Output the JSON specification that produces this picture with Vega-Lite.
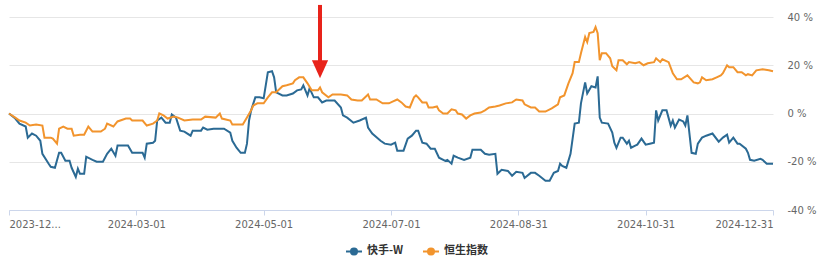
{
  "$schema": "https://vega.github.io/schema/vega-lite/v6.json",
  "width": 764,
  "height": 193,
  "autosize": {"type": "none"},
  "padding": {"left": 9, "top": 17, "right": 57, "bottom": 54},
  "config": {
    "view": {"stroke": null},
    "font": "DejaVu Sans"
  },
  "datasets": {
    "arrowShaft": [{"d": "2024-05-28", "y1": 45, "y2": 21}],
    "arrowHead": [{"d": "2024-05-28", "y": 18.3}]
  },
  "layer": [
    {
      "data": {"values": [
        {"d":"2023-12-31","s":"快手-W","v":0},
        {"d":"2024-01-03","s":"快手-W","v":-2.1},
        {"d":"2024-01-05","s":"快手-W","v":-4.2},
        {"d":"2024-01-08","s":"快手-W","v":-5.4},
        {"d":"2024-01-09","s":"快手-W","v":-10.0},
        {"d":"2024-01-11","s":"快手-W","v":-8.3},
        {"d":"2024-01-13","s":"快手-W","v":-9.2},
        {"d":"2024-01-15","s":"快手-W","v":-11.3},
        {"d":"2024-01-16","s":"快手-W","v":-16.7},
        {"d":"2024-01-19","s":"快手-W","v":-20.8},
        {"d":"2024-01-20","s":"快手-W","v":-22.1},
        {"d":"2024-01-22","s":"快手-W","v":-22.5},
        {"d":"2024-01-24","s":"快手-W","v":-16.3},
        {"d":"2024-01-25","s":"快手-W","v":-16.3},
        {"d":"2024-01-27","s":"快手-W","v":-19.6},
        {"d":"2024-01-29","s":"快手-W","v":-19.6},
        {"d":"2024-01-30","s":"快手-W","v":-22.5},
        {"d":"2024-02-01","s":"快手-W","v":-26.3},
        {"d":"2024-02-02","s":"快手-W","v":-22.9},
        {"d":"2024-02-03","s":"快手-W","v":-25.0},
        {"d":"2024-02-05","s":"快手-W","v":-25.0},
        {"d":"2024-02-06","s":"快手-W","v":-17.9},
        {"d":"2024-02-09","s":"快手-W","v":-19.2},
        {"d":"2024-02-11","s":"快手-W","v":-20.0},
        {"d":"2024-02-14","s":"快手-W","v":-20.0},
        {"d":"2024-02-16","s":"快手-W","v":-16.7},
        {"d":"2024-02-18","s":"快手-W","v":-14.6},
        {"d":"2024-02-20","s":"快手-W","v":-17.5},
        {"d":"2024-02-21","s":"快手-W","v":-13.3},
        {"d":"2024-02-26","s":"快手-W","v":-13.3},
        {"d":"2024-02-28","s":"快手-W","v":-16.3},
        {"d":"2024-03-04","s":"快手-W","v":-16.3},
        {"d":"2024-03-05","s":"快手-W","v":-18.3},
        {"d":"2024-03-06","s":"快手-W","v":-12.5},
        {"d":"2024-03-09","s":"快手-W","v":-12.1},
        {"d":"2024-03-10","s":"快手-W","v":-11.3},
        {"d":"2024-03-11","s":"快手-W","v":-2.9},
        {"d":"2024-03-13","s":"快手-W","v":-1.7},
        {"d":"2024-03-15","s":"快手-W","v":-3.8},
        {"d":"2024-03-17","s":"快手-W","v":-3.8},
        {"d":"2024-03-18","s":"快手-W","v":-0.4},
        {"d":"2024-03-20","s":"快手-W","v":-1.7},
        {"d":"2024-03-22","s":"快手-W","v":-7.1},
        {"d":"2024-03-24","s":"快手-W","v":-7.5},
        {"d":"2024-03-27","s":"快手-W","v":-9.2},
        {"d":"2024-03-28","s":"快手-W","v":-7.1},
        {"d":"2024-04-01","s":"快手-W","v":-7.1},
        {"d":"2024-04-02","s":"快手-W","v":-5.8},
        {"d":"2024-04-04","s":"快手-W","v":-6.7},
        {"d":"2024-04-07","s":"快手-W","v":-6.3},
        {"d":"2024-04-10","s":"快手-W","v":-6.3},
        {"d":"2024-04-12","s":"快手-W","v":-6.3},
        {"d":"2024-04-15","s":"快手-W","v":-7.9},
        {"d":"2024-04-16","s":"快手-W","v":-11.3},
        {"d":"2024-04-18","s":"快手-W","v":-14.2},
        {"d":"2024-04-20","s":"快手-W","v":-16.3},
        {"d":"2024-04-22","s":"快手-W","v":-16.3},
        {"d":"2024-04-23","s":"快手-W","v":-12.5},
        {"d":"2024-04-24","s":"快手-W","v":-2.9},
        {"d":"2024-04-25","s":"快手-W","v":1.3},
        {"d":"2024-04-27","s":"快手-W","v":6.7},
        {"d":"2024-04-29","s":"快手-W","v":6.7},
        {"d":"2024-05-01","s":"快手-W","v":6.3},
        {"d":"2024-05-03","s":"快手-W","v":17.1},
        {"d":"2024-05-05","s":"快手-W","v":17.5},
        {"d":"2024-05-06","s":"快手-W","v":15.0},
        {"d":"2024-05-07","s":"快手-W","v":8.8},
        {"d":"2024-05-10","s":"快手-W","v":7.5},
        {"d":"2024-05-12","s":"快手-W","v":7.5},
        {"d":"2024-05-15","s":"快手-W","v":8.3},
        {"d":"2024-05-17","s":"快手-W","v":9.6},
        {"d":"2024-05-19","s":"快手-W","v":10.0},
        {"d":"2024-05-20","s":"快手-W","v":11.7},
        {"d":"2024-05-22","s":"快手-W","v":7.5},
        {"d":"2024-05-23","s":"快手-W","v":10.4},
        {"d":"2024-05-25","s":"快手-W","v":6.7},
        {"d":"2024-05-27","s":"快手-W","v":6.7},
        {"d":"2024-05-29","s":"快手-W","v":4.6},
        {"d":"2024-05-31","s":"快手-W","v":5.4},
        {"d":"2024-06-04","s":"快手-W","v":5.4},
        {"d":"2024-06-07","s":"快手-W","v":2.5},
        {"d":"2024-06-08","s":"快手-W","v":-0.8},
        {"d":"2024-06-10","s":"快手-W","v":-1.7},
        {"d":"2024-06-13","s":"快手-W","v":-3.8},
        {"d":"2024-06-16","s":"快手-W","v":-2.9},
        {"d":"2024-06-19","s":"快手-W","v":-1.7},
        {"d":"2024-06-20","s":"快手-W","v":-5.8},
        {"d":"2024-06-22","s":"快手-W","v":-8.3},
        {"d":"2024-06-26","s":"快手-W","v":-11.3},
        {"d":"2024-06-28","s":"快手-W","v":-12.5},
        {"d":"2024-07-01","s":"快手-W","v":-12.9},
        {"d":"2024-07-03","s":"快手-W","v":-12.1},
        {"d":"2024-07-04","s":"快手-W","v":-15.4},
        {"d":"2024-07-07","s":"快手-W","v":-15.4},
        {"d":"2024-07-09","s":"快手-W","v":-10.4},
        {"d":"2024-07-11","s":"快手-W","v":-9.2},
        {"d":"2024-07-13","s":"快手-W","v":-7.1},
        {"d":"2024-07-14","s":"快手-W","v":-7.1},
        {"d":"2024-07-16","s":"快手-W","v":-12.1},
        {"d":"2024-07-18","s":"快手-W","v":-12.5},
        {"d":"2024-07-20","s":"快手-W","v":-14.6},
        {"d":"2024-07-22","s":"快手-W","v":-14.6},
        {"d":"2024-07-24","s":"快手-W","v":-18.3},
        {"d":"2024-07-27","s":"快手-W","v":-19.6},
        {"d":"2024-07-28","s":"快手-W","v":-19.2},
        {"d":"2024-07-30","s":"快手-W","v":-20.8},
        {"d":"2024-07-31","s":"快手-W","v":-17.5},
        {"d":"2024-08-02","s":"快手-W","v":-18.3},
        {"d":"2024-08-05","s":"快手-W","v":-19.2},
        {"d":"2024-08-08","s":"快手-W","v":-18.3},
        {"d":"2024-08-09","s":"快手-W","v":-15.0},
        {"d":"2024-08-13","s":"快手-W","v":-15.0},
        {"d":"2024-08-15","s":"快手-W","v":-16.7},
        {"d":"2024-08-17","s":"快手-W","v":-17.1},
        {"d":"2024-08-20","s":"快手-W","v":-16.7},
        {"d":"2024-08-21","s":"快手-W","v":-25.0},
        {"d":"2024-08-23","s":"快手-W","v":-23.3},
        {"d":"2024-08-26","s":"快手-W","v":-23.8},
        {"d":"2024-08-28","s":"快手-W","v":-25.8},
        {"d":"2024-08-30","s":"快手-W","v":-24.2},
        {"d":"2024-09-02","s":"快手-W","v":-24.6},
        {"d":"2024-09-03","s":"快手-W","v":-26.7},
        {"d":"2024-09-06","s":"快手-W","v":-24.6},
        {"d":"2024-09-08","s":"快手-W","v":-24.6},
        {"d":"2024-09-10","s":"快手-W","v":-25.8},
        {"d":"2024-09-13","s":"快手-W","v":-27.9},
        {"d":"2024-09-15","s":"快手-W","v":-27.9},
        {"d":"2024-09-17","s":"快手-W","v":-24.6},
        {"d":"2024-09-19","s":"快手-W","v":-23.8},
        {"d":"2024-09-20","s":"快手-W","v":-20.8},
        {"d":"2024-09-21","s":"快手-W","v":-21.7},
        {"d":"2024-09-23","s":"快手-W","v":-22.5},
        {"d":"2024-09-25","s":"快手-W","v":-16.7},
        {"d":"2024-09-27","s":"快手-W","v":-4.2},
        {"d":"2024-09-29","s":"快手-W","v":-3.8},
        {"d":"2024-09-30","s":"快手-W","v":4.2},
        {"d":"2024-10-02","s":"快手-W","v":12.9},
        {"d":"2024-10-03","s":"快手-W","v":8.3},
        {"d":"2024-10-05","s":"快手-W","v":11.3},
        {"d":"2024-10-07","s":"快手-W","v":10.8},
        {"d":"2024-10-08","s":"快手-W","v":15.4},
        {"d":"2024-10-09","s":"快手-W","v":-1.7},
        {"d":"2024-10-10","s":"快手-W","v":-3.8},
        {"d":"2024-10-13","s":"快手-W","v":-4.2},
        {"d":"2024-10-15","s":"快手-W","v":-7.9},
        {"d":"2024-10-16","s":"快手-W","v":-12.1},
        {"d":"2024-10-17","s":"快手-W","v":-14.2},
        {"d":"2024-10-19","s":"快手-W","v":-10.0},
        {"d":"2024-10-20","s":"快手-W","v":-10.0},
        {"d":"2024-10-22","s":"快手-W","v":-12.5},
        {"d":"2024-10-23","s":"快手-W","v":-11.3},
        {"d":"2024-10-24","s":"快手-W","v":-14.2},
        {"d":"2024-10-26","s":"快手-W","v":-13.3},
        {"d":"2024-10-27","s":"快手-W","v":-12.9},
        {"d":"2024-10-29","s":"快手-W","v":-10.4},
        {"d":"2024-10-31","s":"快手-W","v":-12.9},
        {"d":"2024-11-02","s":"快手-W","v":-12.5},
        {"d":"2024-11-04","s":"快手-W","v":-12.1},
        {"d":"2024-11-05","s":"快手-W","v":1.3},
        {"d":"2024-11-06","s":"快手-W","v":-2.9},
        {"d":"2024-11-08","s":"快手-W","v":1.3},
        {"d":"2024-11-10","s":"快手-W","v":1.3},
        {"d":"2024-11-12","s":"快手-W","v":-5.0},
        {"d":"2024-11-13","s":"快手-W","v":-2.9},
        {"d":"2024-11-14","s":"快手-W","v":-5.8},
        {"d":"2024-11-16","s":"快手-W","v":-2.5},
        {"d":"2024-11-18","s":"快手-W","v":-3.3},
        {"d":"2024-11-19","s":"快手-W","v":-5.0},
        {"d":"2024-11-20","s":"快手-W","v":-0.8},
        {"d":"2024-11-22","s":"快手-W","v":-16.3},
        {"d":"2024-11-24","s":"快手-W","v":-16.7},
        {"d":"2024-11-25","s":"快手-W","v":-12.5},
        {"d":"2024-11-27","s":"快手-W","v":-10.0},
        {"d":"2024-11-29","s":"快手-W","v":-9.2},
        {"d":"2024-12-02","s":"快手-W","v":-8.3},
        {"d":"2024-12-05","s":"快手-W","v":-11.7},
        {"d":"2024-12-07","s":"快手-W","v":-10.0},
        {"d":"2024-12-09","s":"快手-W","v":-8.8},
        {"d":"2024-12-10","s":"快手-W","v":-12.1},
        {"d":"2024-12-12","s":"快手-W","v":-10.0},
        {"d":"2024-12-14","s":"快手-W","v":-12.5},
        {"d":"2024-12-15","s":"快手-W","v":-12.5},
        {"d":"2024-12-18","s":"快手-W","v":-14.6},
        {"d":"2024-12-19","s":"快手-W","v":-16.3},
        {"d":"2024-12-20","s":"快手-W","v":-19.2},
        {"d":"2024-12-22","s":"快手-W","v":-19.6},
        {"d":"2024-12-25","s":"快手-W","v":-18.8},
        {"d":"2024-12-26","s":"快手-W","v":-19.2},
        {"d":"2024-12-28","s":"快手-W","v":-20.8},
        {"d":"2024-12-31","s":"快手-W","v":-20.8},
        {"d":"2023-12-31","s":"恒生指数","v":0},
        {"d":"2024-01-03","s":"恒生指数","v":-1.7},
        {"d":"2024-01-05","s":"恒生指数","v":-2.9},
        {"d":"2024-01-08","s":"恒生指数","v":-3.8},
        {"d":"2024-01-10","s":"恒生指数","v":-5.0},
        {"d":"2024-01-13","s":"恒生指数","v":-4.6},
        {"d":"2024-01-16","s":"恒生指数","v":-5.0},
        {"d":"2024-01-17","s":"恒生指数","v":-10.0},
        {"d":"2024-01-20","s":"恒生指数","v":-10.0},
        {"d":"2024-01-21","s":"恒生指数","v":-10.4},
        {"d":"2024-01-23","s":"恒生指数","v":-12.5},
        {"d":"2024-01-24","s":"恒生指数","v":-6.3},
        {"d":"2024-01-26","s":"恒生指数","v":-5.4},
        {"d":"2024-01-28","s":"恒生指数","v":-6.3},
        {"d":"2024-01-30","s":"恒生指数","v":-6.3},
        {"d":"2024-01-31","s":"恒生指数","v":-9.2},
        {"d":"2024-02-03","s":"恒生指数","v":-8.8},
        {"d":"2024-02-05","s":"恒生指数","v":-8.8},
        {"d":"2024-02-07","s":"恒生指数","v":-5.4},
        {"d":"2024-02-09","s":"恒生指数","v":-7.5},
        {"d":"2024-02-13","s":"恒生指数","v":-7.5},
        {"d":"2024-02-15","s":"恒生指数","v":-6.3},
        {"d":"2024-02-16","s":"恒生指数","v":-4.2},
        {"d":"2024-02-19","s":"恒生指数","v":-5.4},
        {"d":"2024-02-21","s":"恒生指数","v":-3.3},
        {"d":"2024-02-25","s":"恒生指数","v":-2.1},
        {"d":"2024-02-27","s":"恒生指数","v":-2.1},
        {"d":"2024-02-28","s":"恒生指数","v":-2.9},
        {"d":"2024-03-04","s":"恒生指数","v":-2.9},
        {"d":"2024-03-06","s":"恒生指数","v":-5.0},
        {"d":"2024-03-09","s":"恒生指数","v":-4.2},
        {"d":"2024-03-11","s":"恒生指数","v":-2.9},
        {"d":"2024-03-12","s":"恒生指数","v":0},
        {"d":"2024-03-14","s":"恒生指数","v":-0.8},
        {"d":"2024-03-16","s":"恒生指数","v":-2.1},
        {"d":"2024-03-19","s":"恒生指数","v":-1.3},
        {"d":"2024-03-21","s":"恒生指数","v":-1.7},
        {"d":"2024-03-24","s":"恒生指数","v":-2.9},
        {"d":"2024-03-28","s":"恒生指数","v":-2.5},
        {"d":"2024-04-01","s":"恒生指数","v":-2.5},
        {"d":"2024-04-03","s":"恒生指数","v":-1.3},
        {"d":"2024-04-08","s":"恒生指数","v":-1.7},
        {"d":"2024-04-10","s":"恒生指数","v":0},
        {"d":"2024-04-11","s":"恒生指数","v":-2.1},
        {"d":"2024-04-15","s":"恒生指数","v":-2.9},
        {"d":"2024-04-16","s":"恒生指数","v":-4.6},
        {"d":"2024-04-21","s":"恒生指数","v":-4.6},
        {"d":"2024-04-23","s":"恒生指数","v":-1.7},
        {"d":"2024-04-25","s":"恒生指数","v":1.3},
        {"d":"2024-04-26","s":"恒生指数","v":3.3},
        {"d":"2024-04-28","s":"恒生指数","v":4.2},
        {"d":"2024-05-01","s":"恒生指数","v":4.2},
        {"d":"2024-05-03","s":"恒生指数","v":6.7},
        {"d":"2024-05-05","s":"恒生指数","v":8.8},
        {"d":"2024-05-07","s":"恒生指数","v":8.8},
        {"d":"2024-05-10","s":"恒生指数","v":11.3},
        {"d":"2024-05-12","s":"恒生指数","v":11.7},
        {"d":"2024-05-15","s":"恒生指数","v":12.5},
        {"d":"2024-05-16","s":"恒生指数","v":13.8},
        {"d":"2024-05-18","s":"恒生指数","v":15.0},
        {"d":"2024-05-20","s":"恒生指数","v":15.0},
        {"d":"2024-05-22","s":"恒生指数","v":12.5},
        {"d":"2024-05-24","s":"恒生指数","v":9.6},
        {"d":"2024-05-27","s":"恒生指数","v":9.6},
        {"d":"2024-05-28","s":"恒生指数","v":10.8},
        {"d":"2024-05-29","s":"恒生指数","v":8.8},
        {"d":"2024-06-01","s":"恒生指数","v":6.7},
        {"d":"2024-06-03","s":"恒生指数","v":7.9},
        {"d":"2024-06-07","s":"恒生指数","v":7.9},
        {"d":"2024-06-10","s":"恒生指数","v":7.5},
        {"d":"2024-06-12","s":"恒生指数","v":5.8},
        {"d":"2024-06-15","s":"恒生指数","v":5.4},
        {"d":"2024-06-17","s":"恒生指数","v":5.4},
        {"d":"2024-06-20","s":"恒生指数","v":7.9},
        {"d":"2024-06-21","s":"恒生指数","v":5.8},
        {"d":"2024-06-24","s":"恒生指数","v":5.8},
        {"d":"2024-06-27","s":"恒生指数","v":4.2},
        {"d":"2024-06-30","s":"恒生指数","v":4.2},
        {"d":"2024-07-02","s":"恒生指数","v":5.0},
        {"d":"2024-07-04","s":"恒生指数","v":5.8},
        {"d":"2024-07-06","s":"恒生指数","v":4.6},
        {"d":"2024-07-08","s":"恒生指数","v":2.9},
        {"d":"2024-07-10","s":"恒生指数","v":2.5},
        {"d":"2024-07-12","s":"恒生指数","v":6.7},
        {"d":"2024-07-13","s":"恒生指数","v":7.5},
        {"d":"2024-07-14","s":"恒生指数","v":6.7},
        {"d":"2024-07-16","s":"恒生指数","v":4.6},
        {"d":"2024-07-18","s":"恒生指数","v":4.6},
        {"d":"2024-07-19","s":"恒生指数","v":2.5},
        {"d":"2024-07-21","s":"恒生指数","v":2.5},
        {"d":"2024-07-23","s":"恒生指数","v":2.9},
        {"d":"2024-07-24","s":"恒生指数","v":1.3},
        {"d":"2024-07-26","s":"恒生指数","v":0},
        {"d":"2024-07-28","s":"恒生指数","v":0},
        {"d":"2024-07-30","s":"恒生指数","v":1.7},
        {"d":"2024-08-01","s":"恒生指数","v":1.3},
        {"d":"2024-08-02","s":"恒生指数","v":0},
        {"d":"2024-08-04","s":"恒生指数","v":-0.4},
        {"d":"2024-08-06","s":"恒生指数","v":-2.1},
        {"d":"2024-08-08","s":"恒生指数","v":-0.8},
        {"d":"2024-08-10","s":"恒生指数","v":0},
        {"d":"2024-08-13","s":"恒生指数","v":0.4},
        {"d":"2024-08-15","s":"恒生指数","v":1.3},
        {"d":"2024-08-17","s":"恒生指数","v":2.5},
        {"d":"2024-08-20","s":"恒生指数","v":2.9},
        {"d":"2024-08-22","s":"恒生指数","v":3.3},
        {"d":"2024-08-25","s":"恒生指数","v":4.2},
        {"d":"2024-08-28","s":"恒生指数","v":4.6},
        {"d":"2024-08-30","s":"恒生指数","v":5.8},
        {"d":"2024-09-02","s":"恒生指数","v":5.4},
        {"d":"2024-09-03","s":"恒生指数","v":3.8},
        {"d":"2024-09-06","s":"恒生指数","v":2.5},
        {"d":"2024-09-08","s":"恒生指数","v":2.5},
        {"d":"2024-09-10","s":"恒生指数","v":0.8},
        {"d":"2024-09-13","s":"恒生指数","v":0.8},
        {"d":"2024-09-16","s":"恒生指数","v":2.1},
        {"d":"2024-09-19","s":"恒生指数","v":3.8},
        {"d":"2024-09-20","s":"恒生指数","v":6.7},
        {"d":"2024-09-22","s":"恒生指数","v":7.5},
        {"d":"2024-09-24","s":"恒生指数","v":12.5},
        {"d":"2024-09-26","s":"恒生指数","v":16.7},
        {"d":"2024-09-27","s":"恒生指数","v":21.3},
        {"d":"2024-09-29","s":"恒生指数","v":21.3},
        {"d":"2024-09-30","s":"恒生指数","v":25.0},
        {"d":"2024-10-02","s":"恒生指数","v":31.7},
        {"d":"2024-10-03","s":"恒生指数","v":29.6},
        {"d":"2024-10-04","s":"恒生指数","v":33.3},
        {"d":"2024-10-06","s":"恒生指数","v":33.8},
        {"d":"2024-10-07","s":"恒生指数","v":35.8},
        {"d":"2024-10-08","s":"恒生指数","v":33.3},
        {"d":"2024-10-09","s":"恒生指数","v":22.1},
        {"d":"2024-10-10","s":"恒生指数","v":25.0},
        {"d":"2024-10-12","s":"恒生指数","v":25.0},
        {"d":"2024-10-14","s":"恒生指数","v":22.9},
        {"d":"2024-10-15","s":"恒生指数","v":19.6},
        {"d":"2024-10-17","s":"恒生指数","v":17.9},
        {"d":"2024-10-18","s":"恒生指数","v":22.1},
        {"d":"2024-10-20","s":"恒生指数","v":22.1},
        {"d":"2024-10-22","s":"恒生指数","v":20.4},
        {"d":"2024-10-23","s":"恒生指数","v":21.3},
        {"d":"2024-10-26","s":"恒生指数","v":20.8},
        {"d":"2024-10-28","s":"恒生指数","v":21.3},
        {"d":"2024-10-30","s":"恒生指数","v":20.0},
        {"d":"2024-11-01","s":"恒生指数","v":20.8},
        {"d":"2024-11-04","s":"恒生指数","v":21.3},
        {"d":"2024-11-05","s":"恒生指数","v":22.9},
        {"d":"2024-11-07","s":"恒生指数","v":21.3},
        {"d":"2024-11-08","s":"恒生指数","v":22.5},
        {"d":"2024-11-11","s":"恒生指数","v":21.3},
        {"d":"2024-11-13","s":"恒生指数","v":16.7},
        {"d":"2024-11-15","s":"恒生指数","v":14.2},
        {"d":"2024-11-17","s":"恒生指数","v":14.2},
        {"d":"2024-11-20","s":"恒生指数","v":15.8},
        {"d":"2024-11-23","s":"恒生指数","v":12.9},
        {"d":"2024-11-25","s":"恒生指数","v":12.5},
        {"d":"2024-11-26","s":"恒生指数","v":12.9},
        {"d":"2024-11-27","s":"恒生指数","v":15.0},
        {"d":"2024-11-29","s":"恒生指数","v":13.8},
        {"d":"2024-12-02","s":"恒生指数","v":14.2},
        {"d":"2024-12-04","s":"恒生指数","v":15.0},
        {"d":"2024-12-06","s":"恒生指数","v":15.8},
        {"d":"2024-12-07","s":"恒生指数","v":16.7},
        {"d":"2024-12-09","s":"恒生指数","v":20.0},
        {"d":"2024-12-10","s":"恒生指数","v":19.2},
        {"d":"2024-12-12","s":"恒生指数","v":19.2},
        {"d":"2024-12-14","s":"恒生指数","v":17.1},
        {"d":"2024-12-16","s":"恒生指数","v":17.1},
        {"d":"2024-12-18","s":"恒生指数","v":15.8},
        {"d":"2024-12-19","s":"恒生指数","v":16.3},
        {"d":"2024-12-21","s":"恒生指数","v":15.8},
        {"d":"2024-12-23","s":"恒生指数","v":17.9},
        {"d":"2024-12-26","s":"恒生指数","v":18.3},
        {"d":"2024-12-29","s":"恒生指数","v":17.9},
        {"d":"2024-12-31","s":"恒生指数","v":17.5}
      ]},
      "mark": {"type": "line", "strokeWidth": 2, "interpolate": "linear"},
      "encoding": {
        "x": {
          "field": "d", "type": "temporal",
          "scale": {"type": "utc", "domain": [{"year": 2023, "month": 12, "date": 31, "utc": true}, {"year": 2024, "month": 12, "date": 31, "utc": true}]},
          "axis": {
            "title": null,
            "values": [
              {"year": 2023, "month": 12, "date": 31, "utc": true},
              {"year": 2024, "month": 3, "date": 1, "utc": true},
              {"year": 2024, "month": 5, "date": 1, "utc": true},
              {"year": 2024, "month": 7, "date": 1, "utc": true},
              {"year": 2024, "month": 8, "date": 31, "utc": true},
              {"year": 2024, "month": 10, "date": 31, "utc": true},
              {"year": 2024, "month": 12, "date": 31, "utc": true}
            ],
            "labelExpr": "datum.index == 0 ? '2023-12...' : utcFormat(datum.value, '%Y-%m-%d')",
            "labelFlush": true,
            "labelFont": "DejaVu Sans",
            "labelFontSize": 10,
            "labelColor": "#666666",
            "labelPadding": 4,
            "domainColor": "#ccd6eb",
            "tickColor": "#ccd6eb",
            "tickSize": 5,
            "grid": false
          }
        },
        "y": {
          "field": "v", "type": "quantitative",
          "scale": {"domain": [-40, 40], "nice": false},
          "axis": {
            "title": null,
            "orient": "right",
            "values": [-40, -20, 0, 20, 40],
            "labelExpr": "datum.value + ' %'",
            "labelFont": "DejaVu Sans",
            "labelFontSize": 10,
            "labelColor": "#666666",
            "labelPadding": 14,
            "domain": false,
            "ticks": false,
            "grid": true,
            "gridColor": "#e6e6e6"
          }
        },
        "color": {
          "field": "s", "type": "nominal",
          "scale": {"domain": ["快手-W", "恒生指数"], "range": ["#2b6a94", "#f2942d"]},
          "legend": {
            "title": null,
            "orient": "none",
            "legendX": 336,
            "legendY": 225,
            "direction": "horizontal",
            "labelFont": "Noto Sans CJK SC",
            "labelFontSize": 11,
            "labelFontWeight": "bold",
            "labelColor": "#333333",
            "symbolType": "M-1,0L1,0M-0.38,0A0.38,0.38,0,1,1,0.38,0A0.38,0.38,0,1,1,-0.38,0Z",
            "symbolSize": 256,
            "symbolStrokeWidth": 2,
            "columnPadding": 15,
            "encode": {"symbols": {"update": {"fill": {"scale": "color", "field": "value"}}}}
          }
        }
      }
    },
    {
      "data": {"name": "arrowShaft"},
      "mark": {"type": "rule", "color": "#e8231a", "strokeWidth": 4},
      "encoding": {
        "x": {"field": "d", "type": "temporal"},
        "y": {"field": "y1", "type": "quantitative"},
        "y2": {"field": "y2"}
      }
    },
    {
      "data": {"name": "arrowHead"},
      "mark": {"type": "point", "shape": "M-0.9,-1L0.9,-1L0,1Z", "size": 324, "filled": true, "color": "#e8231a", "opacity": 1},
      "encoding": {
        "x": {"field": "d", "type": "temporal"},
        "y": {"field": "y", "type": "quantitative"}
      }
    }
  ]
}
